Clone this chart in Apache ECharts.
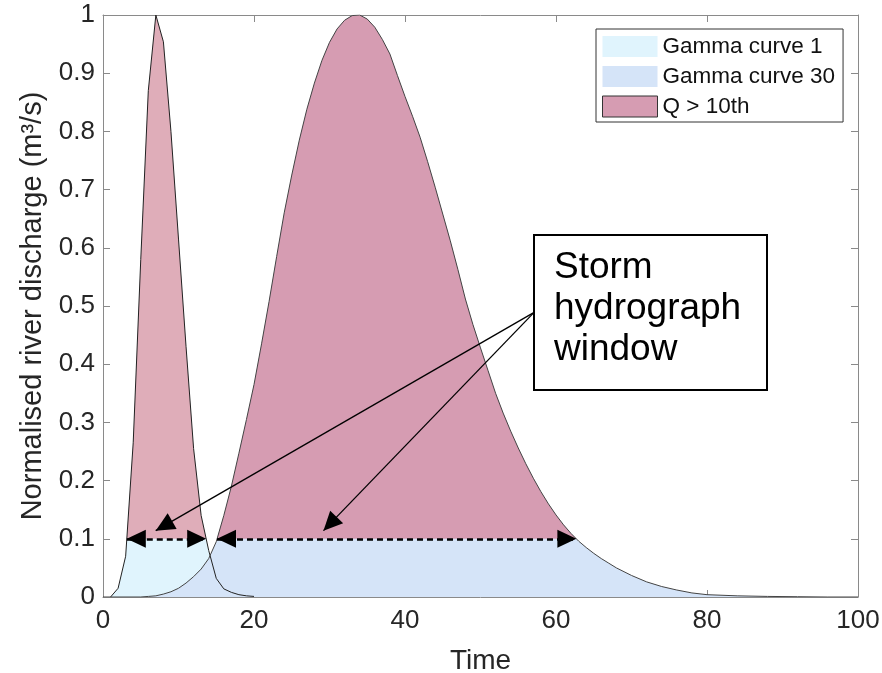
<!DOCTYPE html>
<html>
<head>
<meta charset="utf-8">
<script src="https://cdn.jsdelivr.net/npm/echarts@6/dist/echarts.min.js"></script>
<style>
  html, body { margin: 0; padding: 0; background: #fff; }
  #chart { width: 882px; height: 673px; }
</style>
</head>
<body>
<div id="chart"></div>
<script>
// gamma curve 1 (short, steep)
const c1x = [1, 2, 3, 4, 5, 6, 7, 8, 9, 10, 11, 12, 13, 14, 15, 16, 17, 18, 19, 20];
const c1y = [0, 0.015, 0.07, 0.265, 0.58, 0.87, 1, 0.954, 0.8, 0.615, 0.43, 0.255, 0.14, 0.08, 0.032, 0.014, 0.008, 0.004, 0.002, 0.001];

// gamma curve 30 (broad)
const c2x = [0, 5, 6, 7, 8, 9, 10, 11, 12, 13, 14, 15, 16, 17, 18, 19, 20, 21, 22, 23, 24, 25, 26, 27, 28, 29, 30,
  31, 32, 33, 34, 35, 36, 37, 38, 39, 40, 41, 42, 43, 44, 45, 46, 47, 48, 49, 50, 51, 52, 53, 54, 55, 56, 57, 58, 59, 60,
  61, 62, 63, 64, 65, 66, 67, 68, 70, 72, 74, 76, 78, 80, 84, 88, 92, 96, 100];
const c2y = [0, 0, 0.001, 0.002, 0.005, 0.009, 0.015, 0.024, 0.035, 0.048, 0.066, 0.095, 0.14, 0.19, 0.247, 0.305, 0.365,
  0.435, 0.508, 0.585, 0.66, 0.725, 0.785, 0.838, 0.883, 0.922, 0.953, 0.976, 0.991, 0.999, 1.0, 0.993, 0.979, 0.958, 0.933,
  0.896, 0.86, 0.826, 0.79, 0.748, 0.704, 0.658, 0.612, 0.563, 0.512, 0.468, 0.428, 0.389, 0.35, 0.316, 0.285, 0.256, 0.229,
  0.204, 0.181, 0.16, 0.141, 0.124, 0.109, 0.096, 0.085, 0.075, 0.066, 0.058, 0.05, 0.037, 0.026, 0.018, 0.012, 0.007,
  0.004, 0.002, 0.001, 0.0005, 0, 0];

// Q > 10th threshold and where each curve crosses it
const threshold = 0.1;
const win1 = [3.15, 13.67];
const win2 = [15.1, 62.7];

// annotation arrows (from the text box to the windows)
const arrowFrom = [57.1, 0.489];
const arrowTips = [[6.98, 0.114], [29.2, 0.114]];

const xTicks = { min: 0, max: 100, interval: 20 };
const yTicks = { min: 0, max: 1, interval: 0.1 };

const pts = (xs, ys) => xs.map((x, i) => [x, ys[i]]);
// part of the curve above the threshold, closed at the two crossings
const above = (xs, ys, w) => [[w[0], threshold]]
  .concat(pts(xs, ys).filter(p => p[0] > w[0] && p[0] < w[1]))
  .concat([[w[1], threshold]]);

const FONT = 'Liberation Sans';
const AXIS_COL = '#8a8a8a';
const TXT_COL = '#262626';
// triangle with its tip at the centre of the symbol box, so the tip lands on the end point
const HEAD = 'path://M0,0M0,16L8,32L-8,32Z';
const HEAD_SIZE = [18, 38];

const areaSeries = (name, data, color, origin) => ({
  name: name,
  type: 'line',
  data: data,
  showSymbol: false,
  silent: true,
  lineStyle: { width: 0 },
  itemStyle: { color: color },
  areaStyle: { color: color, opacity: 1, origin: origin },
  animation: false
});

const boxAxis = (pos) => ({
  type: 'value',
  position: pos,
  axisLine: { show: true, onZero: false, lineStyle: { color: AXIS_COL } },
  axisTick: { show: true, inside: true, length: 7, lineStyle: { color: AXIS_COL } },
  splitLine: { show: false }
});

const head = (coord) => ({ coord: coord, symbol: HEAD, symbolSize: HEAD_SIZE });
const dashed = { color: '#000', width: 2.5, type: [6, 4] };
const solid = { color: '#000', width: 1.3, type: 'solid' };

const chart = echarts.init(document.getElementById('chart'));

const option = {
  animation: false,
  grid: { left: 103, right: 24, top: 15, bottom: 76, outerBoundsMode: 'none' },
  legend: {
    left: 596,
    top: 29,
    orient: 'vertical',
    itemWidth: 55,
    itemHeight: 21,
    itemGap: 7,
    padding: [6, 8, 4, 6],
    borderColor: '#333',
    borderWidth: 1,
    backgroundColor: '#fff',
    selectedMode: false,
    textStyle: { fontFamily: FONT, fontSize: 22.5, color: '#111' },
    data: [
      { name: 'Gamma curve 1', icon: 'rect', itemStyle: { color: '#e0f4fd', borderWidth: 0 } },
      { name: 'Gamma curve 30', icon: 'rect', itemStyle: { color: '#d5e4f8', borderWidth: 0 } },
      { name: 'Q > 10th', icon: 'rect', itemStyle: { color: '#d69cb2', borderColor: '#333', borderWidth: 1 } }
    ]
  },
  xAxis: [Object.assign(boxAxis('bottom'), {
    min: xTicks.min, max: xTicks.max, interval: xTicks.interval,
    name: 'Time',
    nameLocation: 'middle',
    nameGap: 50,
    nameTextStyle: { fontFamily: FONT, fontSize: 28, color: TXT_COL },
    axisLabel: { fontFamily: FONT, fontSize: 26, color: TXT_COL, margin: 11 }
  }), Object.assign(boxAxis('top'), {
    min: xTicks.min, max: xTicks.max, interval: xTicks.interval,
    axisLabel: { show: false }
  })],
  yAxis: [Object.assign(boxAxis('left'), {
    min: yTicks.min, max: yTicks.max, interval: yTicks.interval,
    name: 'Normalised river discharge (m³/s)',
    nameLocation: 'middle',
    nameRotate: 90,
    nameGap: 56,
    nameTextStyle: { fontFamily: FONT, fontSize: 29, color: TXT_COL },
    axisLabel: { fontFamily: FONT, fontSize: 26, color: TXT_COL, margin: 8 }
  }), Object.assign(boxAxis('right'), {
    min: yTicks.min, max: yTicks.max, interval: yTicks.interval,
    axisLabel: { show: false }
  })],
  series: [
    areaSeries('Gamma curve 1', pts(c1x, c1y), '#e0f4fd', 0),
    areaSeries('Gamma curve 30', pts(c2x, c2y), '#d5e4f8', 0),
    areaSeries('Q > 10th (1)', above(c1x, c1y, win1), '#dfadb9', threshold),
    areaSeries('Q > 10th', above(c2x, c2y, win2), '#d69cb2', threshold),
    {
      name: 'line1', type: 'line', data: pts(c1x, c1y), showSymbol: false, silent: true,
      lineStyle: { color: '#222', width: 1 }, animation: false
    },
    {
      name: 'line2', type: 'line', data: pts(c2x, c2y), showSymbol: false, silent: true,
      lineStyle: { color: '#444', width: 1 }, animation: false,
      markLine: {
        silent: true,
        animation: false,
        label: { show: false },
        emphasis: { disabled: true },
        data: [
          [Object.assign(head([win1[0], threshold]), { lineStyle: dashed }), head([win1[1], threshold])],
          [Object.assign(head([win2[0], threshold]), { lineStyle: dashed }), head([win2[1], threshold])]
        ].concat(arrowTips.map(t => [
          { coord: arrowFrom, symbol: 'none', lineStyle: solid },
          head(t)
        ]))
      }
    }
  ],
  graphic: [{
    type: 'group',
    left: 533,
    top: 234,
    children: [{
      type: 'rect',
      shape: { x: 0, y: 0, width: 233, height: 155 },
      style: { fill: '#fff', stroke: '#000', lineWidth: 2 }
    }, {
      type: 'text',
      x: 20,
      y: 12,
      style: {
        text: 'Storm\nhydrograph\nwindow',
        fontFamily: FONT,
        fontSize: 37,
        lineHeight: 41,
        fill: '#000'
      }
    }]
  }]
};

chart.setOption(option);
</script>
</body>
</html>
